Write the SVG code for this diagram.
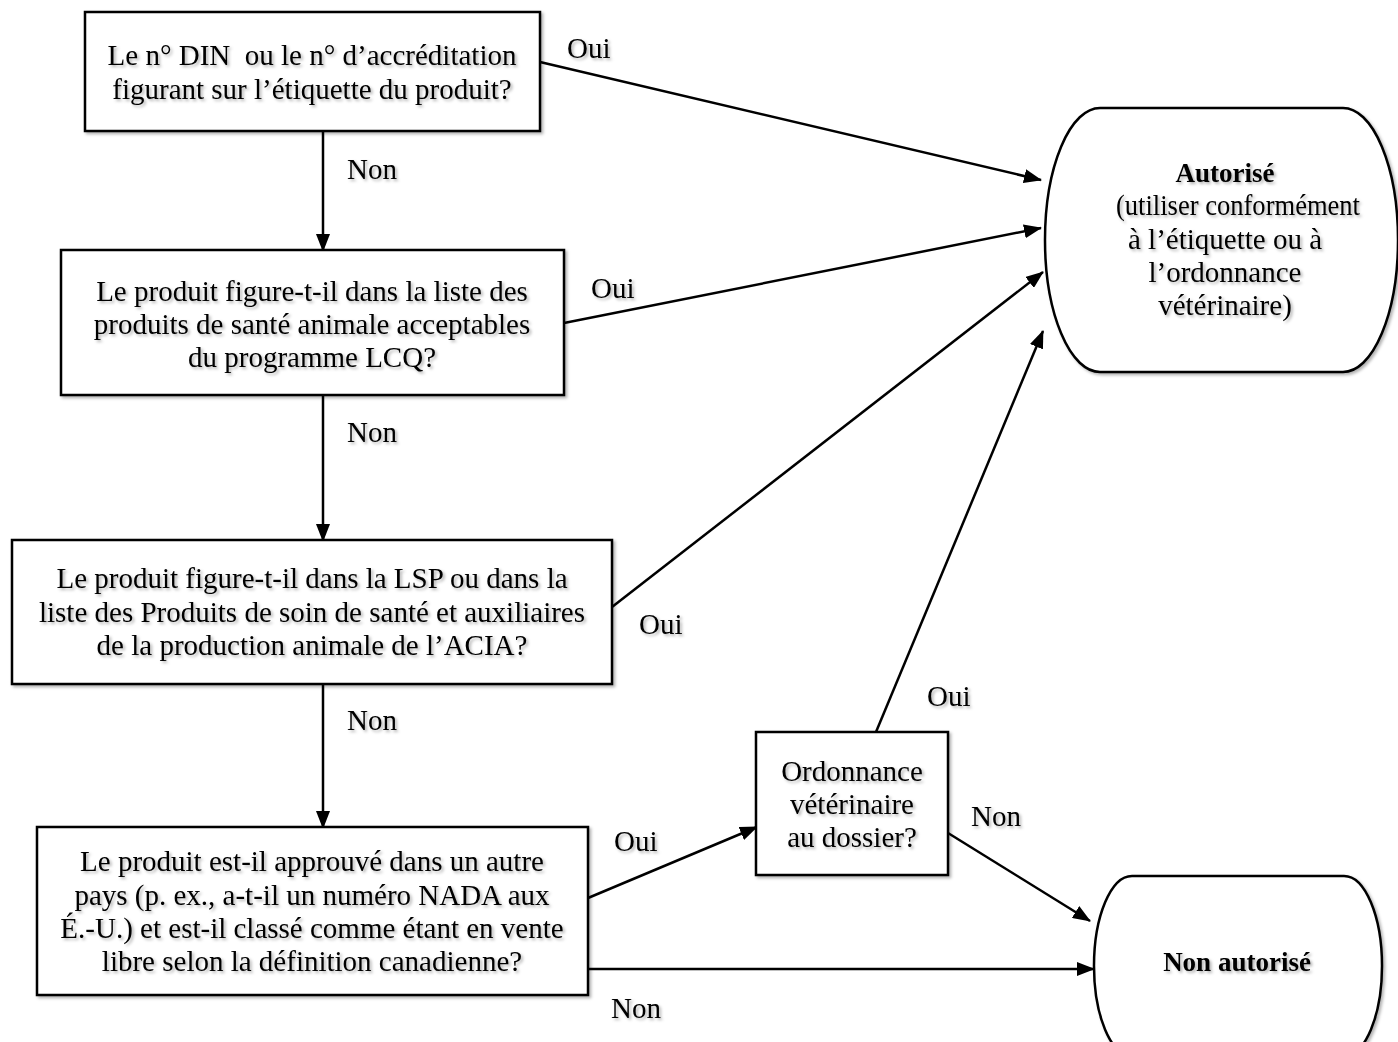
<svg xmlns="http://www.w3.org/2000/svg" width="1398" height="1042" viewBox="0 0 1398 1042">
<defs>
<marker id="ah" markerWidth="18" markerHeight="14" refX="17" refY="7" orient="auto" markerUnits="userSpaceOnUse">
<path d="M0,0 L18,7 L0,14 Z" fill="#000"/>
</marker>
<filter id="sh" x="-10%" y="-10%" width="130%" height="140%">
<feDropShadow dx="2" dy="2" stdDeviation="1.5" flood-color="#000" flood-opacity="0.3"/>
</filter>
</defs>
<style>
.box{fill:#fff;stroke:#000;stroke-width:2.5;filter:url(#sh)}
.t{font-family:"Liberation Serif","Times New Roman",serif;font-size:29px;fill:#000;text-anchor:middle;filter:url(#sh)}
.b{font-weight:bold;font-size:27px}
.lbl{font-family:"Liberation Serif","Times New Roman",serif;font-size:29px;fill:#000;filter:url(#sh)}
.c{stroke:#000;stroke-width:2.5;fill:none;marker-end:url(#ah)}
</style>
<rect width="1398" height="1042" fill="#fff"/>
<g id="connectors">
<line class="c" x1="540" y1="62" x2="1041" y2="180"/>
<line class="c" x1="564" y1="323" x2="1041" y2="228"/>
<line class="c" x1="612" y1="607" x2="1043" y2="272"/>
<line class="c" x1="876" y1="732" x2="1043" y2="331"/>
<line class="c" x1="948" y1="833" x2="1090" y2="921"/>
<line class="c" x1="588" y1="898" x2="757" y2="827"/>
<line class="c" x1="588" y1="969" x2="1094" y2="969"/>
<line class="c" x1="323" y1="131" x2="323" y2="251"/>
<line class="c" x1="323" y1="395" x2="323" y2="541"/>
<line class="c" x1="323" y1="684" x2="323" y2="828"/>
<text class="lbl" x="567" y="58">Oui</text>
<text class="lbl" x="591" y="298">Oui</text>
<text class="lbl" x="639" y="634">Oui</text>
<text class="lbl" x="927" y="706">Oui</text>
<text class="lbl" x="971" y="826">Non</text>
<text class="lbl" x="614" y="851">Oui</text>
<text class="lbl" x="611" y="1018">Non</text>
<text class="lbl" x="347" y="179">Non</text>
<text class="lbl" x="347" y="442">Non</text>
<text class="lbl" x="347" y="730">Non</text>
</g>
<g id="q1">
<rect class="box" x="85" y="12" width="455" height="119"/>
<text class="t" x="312" y="65">Le n° DIN&#160; ou le n° d’accréditation</text>
<text class="t" x="312" y="99">figurant sur l’étiquette du produit?</text>
</g>
<g id="q2">
<rect class="box" x="61" y="250" width="503" height="145"/>
<text class="t" x="312" y="301">Le produit figure-t-il dans la liste des</text>
<text class="t" x="312" y="334">produits de santé animale acceptables</text>
<text class="t" x="312" y="367">du programme LCQ?</text>
</g>
<g id="q3">
<rect class="box" x="12" y="540" width="600" height="144"/>
<text class="t" x="312" y="588">Le produit figure-t-il dans la LSP ou dans la</text>
<text class="t" x="312" y="622">liste des Produits de soin de santé et auxiliaires</text>
<text class="t" x="312" y="655">de la production animale de l’ACIA?</text>
</g>
<g id="q4">
<rect class="box" x="37" y="827" width="551" height="168"/>
<text class="t" x="312" y="871">Le produit est-il approuvé dans un autre</text>
<text class="t" x="312" y="905">pays (p. ex., a-t-il un numéro NADA aux</text>
<text class="t" x="312" y="938">É.-U.) et est-il classé comme étant en vente</text>
<text class="t" x="312" y="971">libre selon la définition canadienne?</text>
</g>
<g id="q5">
<rect class="box" x="756" y="732" width="192" height="143"/>
<text class="t" x="852" y="781">Ordonnance</text>
<text class="t" x="852" y="814">vétérinaire</text>
<text class="t" x="852" y="847">au dossier?</text>
</g>
<g id="autorise">
<path class="box" d="M1100,108 H1343 A55,132 0 0 1 1343,372 H1100 A55,132 0 0 1 1100,108 Z"/>
<text class="t b" x="1225" y="182">Autorisé</text>
<text class="t" x="1238" y="215" textLength="244" lengthAdjust="spacingAndGlyphs">(utiliser conformément</text>
<text class="t" x="1225" y="249">à l’étiquette ou à</text>
<text class="t" x="1225" y="282">l’ordonnance</text>
<text class="t" x="1225" y="315">vétérinaire)</text>
</g>
<g id="non-autorise">
<path class="box" d="M1132,876 H1344 A38,90 0 0 1 1344,1056 H1132 A38,90 0 0 1 1132,876 Z"/>
<text class="t b" x="1237" y="971">Non autorisé</text>
</g>
</svg>
